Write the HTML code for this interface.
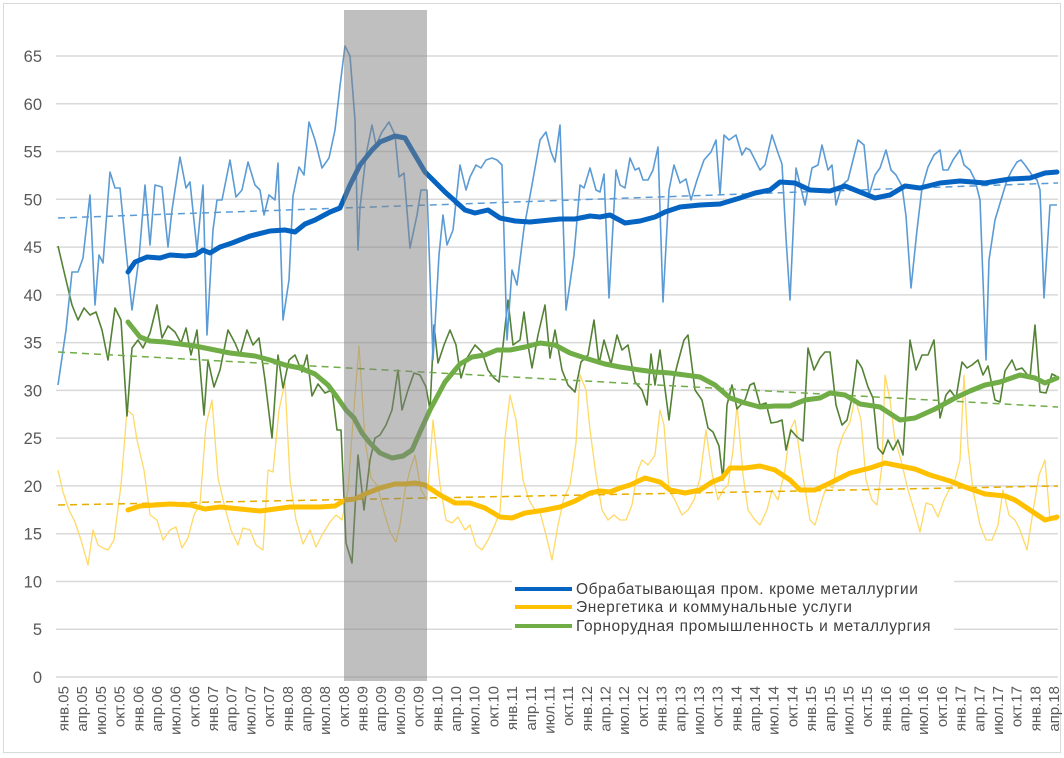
<!DOCTYPE html>
<html><head><meta charset="utf-8"><style>
body{margin:0;background:#fff;width:1064px;height:758px;overflow:hidden}
svg{display:block;font-family:"Liberation Sans",sans-serif}
</style></head><body>
<svg id="s" width="1064" height="758" xmlns="http://www.w3.org/2000/svg">
<rect x="3.5" y="3.5" width="1057" height="749" fill="#fff" stroke="#d9d9d9"/>
<g id="grid" stroke="#d9d9d9" stroke-width="1.5"></g>
<g id="ylab" fill="#595959" font-size="16.5" text-anchor="end"></g>
<g id="xlab" fill="#595959" font-size="15"></g>
<g id="series" fill="none" stroke-linejoin="round"></g>
<rect x="344" y="10" width="83" height="671" fill="#7f7f7f" opacity="0.5"/>
<rect x="512" y="576" width="442" height="60" fill="#fff"/>
<g stroke-width="4">
<line x1="515" y1="589" x2="572" y2="589" stroke="#0563C1"/>
<line x1="515" y1="607" x2="572" y2="607" stroke="#FFC000"/>
<line x1="515" y1="626" x2="572" y2="626" stroke="#70AD47"/>
</g>
<g fill="#404040" font-size="15.5" letter-spacing="0.6">
<text x="576" y="594">Обрабатывающая пром. кроме металлургии</text>
<text x="576" y="612">Энергетика и коммунальные услуги</text>
<text x="576" y="631">Горнорудная промышленность и металлургия</text>
</g>
</svg>
<script>
var NS="http://www.w3.org/2000/svg";
function el(p,t,a,txt){var e=document.createElementNS(NS,t);for(var k in a)e.setAttribute(k,a[k]);if(txt)e.textContent=txt;document.getElementById(p).appendChild(e);return e;}
for(var v=0;v<=65;v+=5){var y=677-v*9.554;el("grid","line",{x1:56,x2:1058,y1:y,y2:y});el("ylab","text",{x:42,y:y+6},""+v);}
var m=["янв.","апр.","июл.","окт."];
for(var i=0;i<54;i++){var yr=5+Math.floor(i/4);var lab=m[i%4]+(yr<10?"0"+yr:yr);var x=63+i*3*6.23+5.5;
el("xlab","text",{transform:"translate("+x+",686) rotate(-90)","text-anchor":"end"},lab);}
function P(a){var s="";for(var i=0;i<a.length;i+=2)s+=(i?"L":"M")+a[i]+" "+a[i+1];return s;}
var blueRaw=[58,385,66,330,72,272,78,272,83,258,90,195,95,305,99,255,103,263,110,172,115,188,120,188,126,250,132,310,139,258,145,185,150,245,155,185,162,187,168,247,172,210,180,157,186,188,190,182,197,250,203,185,207,335,213,230,217,200,222,200,230,160,236,197,242,190,248,162,255,185,260,190,264,215,269,195,275,200,278,163,283,320,289,280,293,196,299,167,304,175,309,122,315,140,322,168,329,158,335,130,340,86,345,46,350,56,355,120,358,250,360,208,366,155,372,125,376,145,382,132,389,122,395,135,399,177,404,173,410,248,417,215,421,190,427,190,433,360,439,255,443,215,447,245,453,230,460,165,466,190,470,177,476,165,481,168,486,160,492,158,497,160,502,165,507,340,512,270,517,285,524,228,532,185,540,140,546,132,551,152,555,162,560,125,566,310,569,290,574,255,580,185,584,188,590,168,596,190,600,192,604,174,609,298,616,170,620,185,625,188,630,158,635,170,639,168,643,180,648,180,653,170,658,147,663,302,669,190,674,165,680,183,686,179,691,200,697,180,704,160,711,152,716,140,720,195,724,135,729,140,736,135,742,155,746,148,750,150,755,160,760,170,765,165,772,135,778,153,782,164,786,238,790,300,796,168,805,205,812,168,818,165,822,145,828,170,832,165,836,205,842,185,848,180,853,160,858,140,864,145,869,195,875,175,880,168,886,150,891,170,896,175,902,186,906,216,911,288,917,230,922,188,928,167,934,155,940,150,943,170,948,170,953,160,960,150,964,165,970,170,975,180,980,200,986,360,989,260,995,220,1001,200,1007,180,1012,170,1017,162,1021,160,1025,165,1032,175,1037,180,1040,190,1044,298,1050,205,1057,205];
var blueS=[128,272,135,262,147,257,160,258,170,255,185,256,195,255,203,250,210,253,220,247,232,243,250,236,270,231,285,230,295,232,305,224,315,220,330,212,340,208,350,185,360,165,372,150,380,142,395,136,405,138,412,150,425,172,445,192,465,210,475,213,488,210,500,218,515,221,530,222,540,221,560,219,575,219,590,216,600,217,610,215,625,223,640,221,655,217,665,212,680,207,700,205,720,204,740,198,755,193,770,190,780,182,795,183,810,190,830,191,845,186,860,192,875,198,890,195,905,186,920,188,940,183,960,181,985,183,1010,179,1030,178,1045,173,1057,172];
var greenRaw=[58,246,66,280,72,305,78,320,84,308,90,315,96,312,102,330,108,360,115,308,121,320,127,416,132,348,138,340,143,348,150,333,157,305,162,338,168,326,175,332,181,343,186,328,191,355,197,330,204,415,208,360,214,387,220,370,228,330,235,343,240,355,247,330,253,345,259,338,265,380,272,438,278,355,283,388,289,360,295,355,302,372,307,355,312,396,318,384,325,393,332,390,337,430,341,430,346,543,352,563,358,455,364,510,370,460,375,438,380,435,386,425,392,410,398,370,402,410,408,390,414,373,420,375,426,387,430,410,434,325,438,363,444,345,450,330,456,345,461,378,467,358,475,345,482,352,488,370,494,378,499,382,508,300,513,345,520,340,524,312,528,345,532,368,538,335,545,305,550,358,555,330,562,370,568,385,575,392,581,362,588,355,594,320,599,364,604,340,611,364,617,335,622,350,628,345,635,382,642,390,647,405,651,354,655,385,660,350,669,420,674,378,678,362,684,340,688,335,695,390,702,400,708,428,713,432,719,446,723,480,727,405,732,385,737,409,745,400,750,385,754,383,760,405,766,403,771,423,777,422,782,420,786,450,791,430,797,437,803,441,808,348,814,370,820,358,825,352,830,352,836,405,842,425,847,420,852,398,857,360,862,368,868,387,873,398,878,448,883,454,888,440,893,450,898,440,903,455,910,340,916,370,922,355,928,355,934,340,940,418,946,395,950,390,956,398,962,362,967,368,972,365,978,360,983,375,988,366,995,400,1000,402,1005,371,1012,360,1016,370,1022,368,1030,378,1035,325,1040,392,1046,393,1052,374,1056,376];
var greenS=[128,322,140,337,150,341,165,342,180,344,195,346,215,350,230,353,255,356,270,360,285,365,300,368,315,374,328,385,337,397,346,410,354,418,362,433,370,443,380,453,392,458,403,456,412,450,420,432,430,410,445,382,460,364,472,357,485,355,497,350,510,350,525,347,540,343,555,345,570,353,585,358,605,364,620,367,640,370,655,372,670,373,685,375,700,377,715,385,730,398,745,403,760,407,775,406,790,406,805,400,820,398,830,393,845,395,860,404,880,407,900,420,915,418,935,409,955,398,970,391,985,385,1000,382,1020,375,1035,378,1045,383,1057,378];
var yelRaw=[58,470,63,492,69,510,75,522,81,540,88,565,93,530,98,545,103,548,108,550,114,540,121,485,127,410,133,415,137,440,144,470,150,515,157,520,163,540,170,530,176,527,182,548,188,538,194,515,200,504,206,425,212,400,218,478,225,508,231,530,238,545,243,528,250,530,256,545,263,550,268,470,273,472,279,410,285,382,290,480,296,520,303,544,310,530,316,547,322,535,330,522,336,515,342,520,348,490,354,408,359,346,365,440,371,478,377,485,384,512,390,532,396,542,400,525,405,490,410,470,415,455,421,490,427,500,433,420,440,485,446,520,452,523,458,517,465,530,470,525,476,545,482,550,488,540,494,527,500,512,505,438,510,395,516,420,523,480,529,500,535,510,540,512,546,535,552,560,558,525,564,498,570,485,576,443,580,375,586,390,590,430,596,475,602,510,608,520,614,515,620,520,626,520,632,505,637,473,642,460,648,465,655,455,660,410,664,425,669,490,675,500,682,515,688,510,694,500,700,478,706,430,712,473,718,500,723,490,728,485,733,450,737,405,743,475,748,510,755,520,760,525,767,510,772,490,778,500,785,470,790,430,795,420,802,470,810,520,815,525,822,500,827,485,833,488,838,450,843,435,850,422,855,398,861,420,866,480,872,500,877,505,882,465,885,375,890,400,895,440,901,460,908,490,914,510,920,532,926,503,932,505,938,517,944,500,950,488,955,480,960,460,964,375,968,447,973,490,980,525,986,540,992,540,998,525,1003,490,1009,515,1015,520,1020,530,1027,550,1034,505,1039,475,1045,460,1050,520,1057,520];
var yelS=[128,510,140,506,155,505,170,504,190,505,205,509,220,507,240,509,260,511,275,509,290,507,305,507,320,507,335,506,345,500,355,499,365,494,380,488,395,484,405,484,415,483,425,485,440,495,455,503,470,503,485,508,500,517,512,518,525,513,545,510,560,507,575,501,590,493,600,491,610,492,620,488,630,485,645,478,660,482,670,490,685,493,700,490,712,482,722,478,730,468,745,468,760,466,775,470,790,480,800,490,815,490,830,483,850,473,870,468,885,463,900,466,915,469,930,475,950,481,965,487,985,494,1005,496,1015,500,1030,510,1045,520,1057,517];
function path(d,c,w,extra){var a={d:P(d),stroke:c,"stroke-width":w};for(var k in extra)a[k]=extra[k];el("series","path",a);}
path(yelRaw,"#FFD966",1.3);
path(greenRaw,"#548235",1.6);
path(blueRaw,"#5B9BD5",1.6);
path([58,505,1058,486],"#E6AC00",1.5,{"stroke-dasharray":"7,5"});
path([58,352,1058,407],"#70AD47",1.5,{"stroke-dasharray":"7,5"});
path([58,218,1058,183],"#5B9BD5",1.5,{"stroke-dasharray":"7,5"});
path(yelS,"#FFC000",5,{"stroke-linecap":"round"});
path(greenS,"#70AD47",5,{"stroke-linecap":"round"});
path(blueS,"#0563C1",5,{"stroke-linecap":"round"});
</script>
</body></html>
